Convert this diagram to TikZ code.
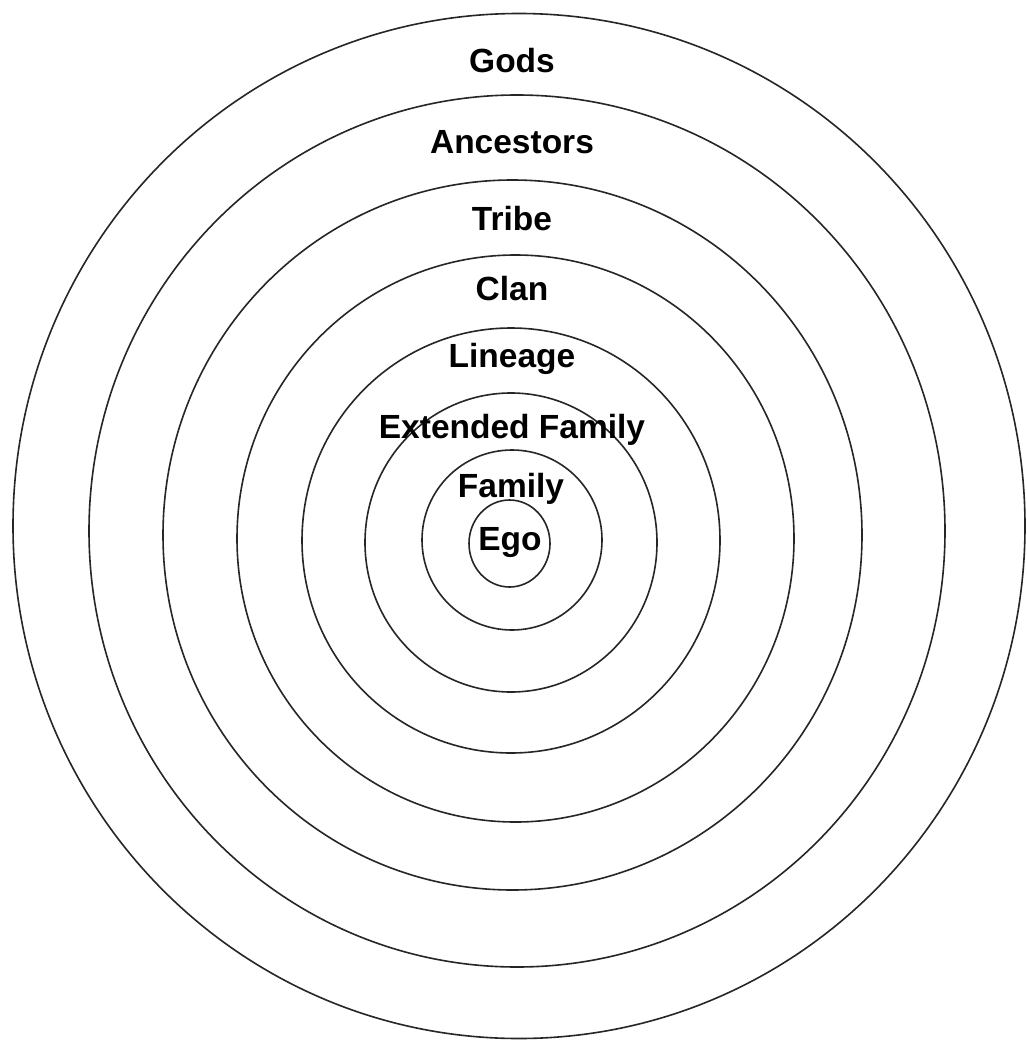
\documentclass[tikz,border=0pt]{standalone}
\usepackage{fontspec}
\setmainfont{Liberation Sans}
\begin{document}
\begin{tikzpicture}[x=1pt,y=-1pt,
  ring/.style={draw=black!85,line width=1.6pt},
  lbl/.style={anchor=base,inner sep=0pt,font=\fontsize{33.5}{40}\selectfont\bfseries}]
\useasboundingbox (0,0) rectangle (1027,1049);
\fill[white] (0,0) rectangle (1027,1049);
% concentric rings
\draw[ring] (519,526) ellipse [x radius=506, y radius=512.5];
\draw[ring] (517,531) ellipse [x radius=428, y radius=436];
\draw[ring] (512.5,535) ellipse [x radius=349.5, y radius=355];
\draw[ring] (515.5,538.5) ellipse [x radius=278.5, y radius=283.5];
\draw[ring] (511,540.5) ellipse [x radius=209, y radius=212.5];
\draw[ring] (511,542.5) ellipse [x radius=146, y radius=149.5];
\draw[ring] (512,540) ellipse [x radius=90, y radius=90];
\draw[ring] (509.5,543.5) ellipse [x radius=40.5, y radius=43.5];
% labels
\node[lbl] (gods) at (512,72) {Gods};
\node[lbl] (anc) at (512,153) {Ancestors};
\node[lbl] (tribe) at (512,230) {Tribe};
\node[lbl] (clan) at (512,300) {Clan};
\node[lbl] (lin) at (512,367) {Lineage};
\node[lbl] (ext) at (512,438) {Extended Family};
\node[lbl] (fam) at (511,497) {Family};
\node[lbl] (ego) at (510,550) {Ego};
\end{tikzpicture}
\end{document}
